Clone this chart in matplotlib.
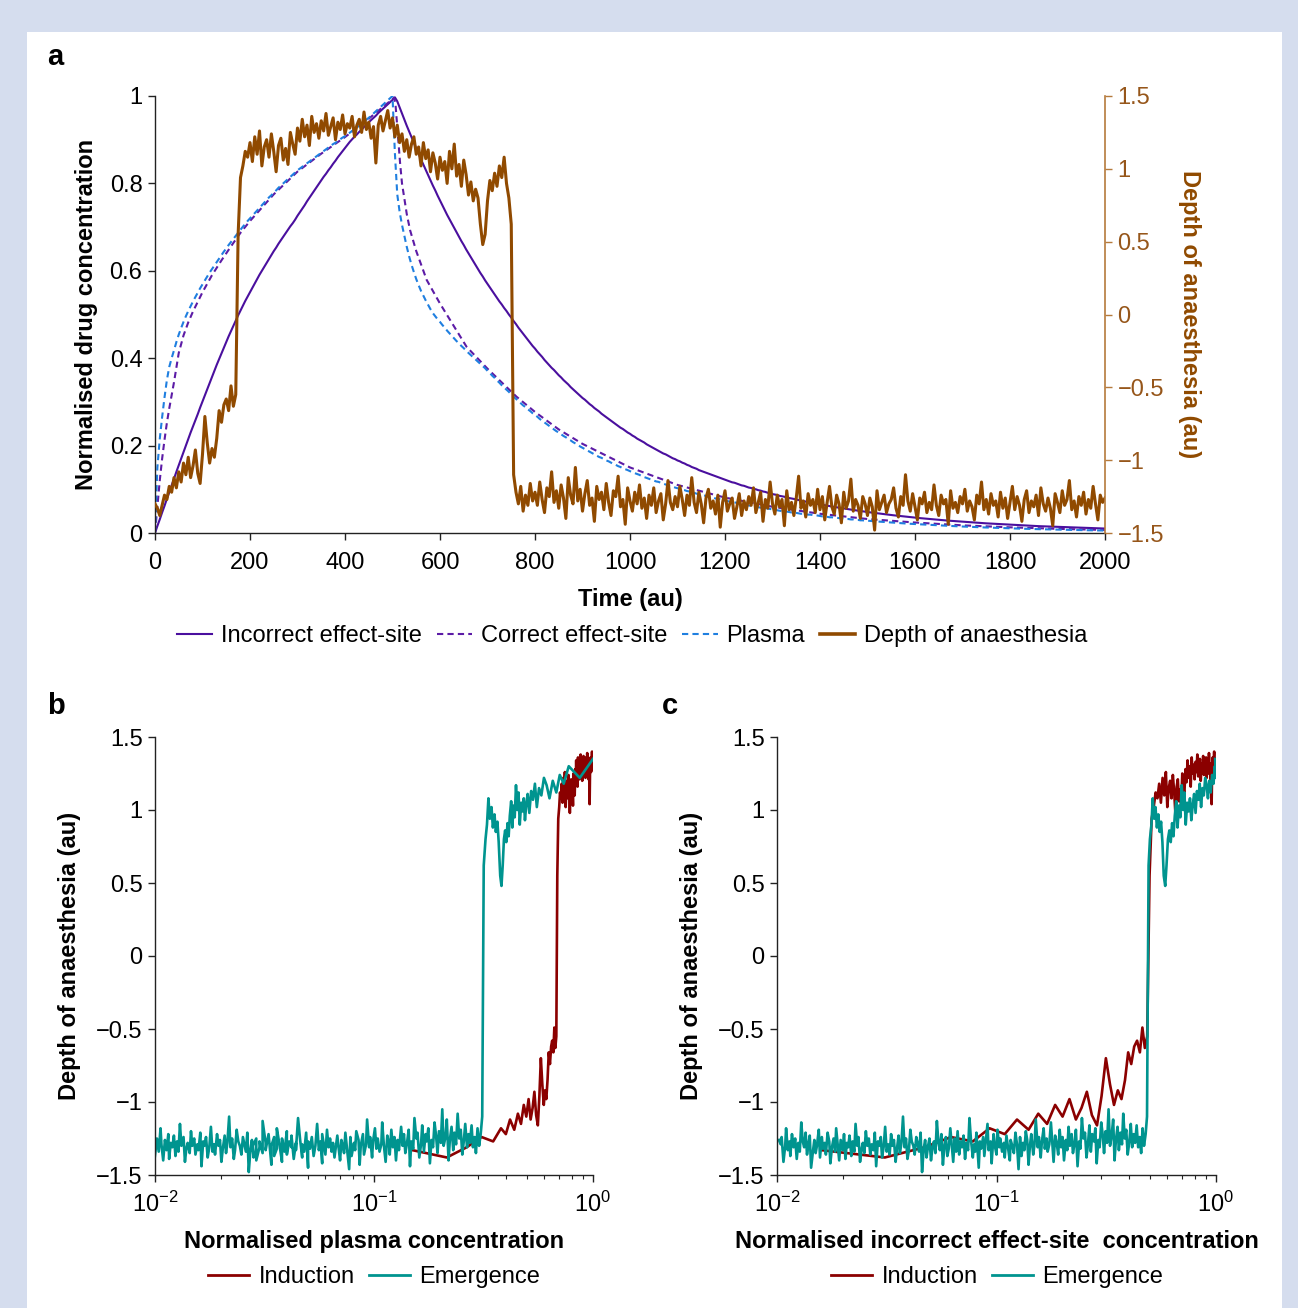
import numpy as np
import matplotlib
matplotlib.use("Agg")
import matplotlib.pyplot as plt
from matplotlib.patches import Rectangle
from matplotlib.lines import Line2D
from matplotlib.ticker import FuncFormatter, LogLocator, NullFormatter

plt.rcParams['font.family'] = ['Liberation Sans', 'DejaVu Sans']
plt.rcParams['mathtext.fontset'] = 'custom'
plt.rcParams['mathtext.rm'] = 'Liberation Sans'
plt.rcParams['mathtext.it'] = 'Liberation Sans:italic'
plt.rcParams['mathtext.bf'] = 'Liberation Sans:bold'

# ---------------- data ----------------
# sampling grid of the simulation (au), every 5 au from 0 to 2000
time_au = np.arange(0, 2001, 5)
INDUCTION_END = 100  # index of t = 500 (end of infusion)

plasma = [
    0.000, 0.150, 0.215, 0.265, 0.310, 0.350, 0.380, 0.400, 0.418, 0.437,
    0.454, 0.469, 0.483, 0.496, 0.508, 0.519, 0.530, 0.540, 0.550, 0.560,
    0.569, 0.578, 0.587, 0.596, 0.604, 0.612, 0.620, 0.628, 0.636, 0.644,
    0.651, 0.659, 0.666, 0.673, 0.680, 0.687, 0.694, 0.701, 0.707, 0.714,
    0.720, 0.726, 0.732, 0.738, 0.744, 0.750, 0.756, 0.762, 0.768, 0.773,
    0.779, 0.784, 0.790, 0.795, 0.800, 0.805, 0.810, 0.815, 0.820, 0.825,
    0.830, 0.834, 0.838, 0.842, 0.846, 0.850, 0.854, 0.858, 0.862, 0.866,
    0.870, 0.874, 0.878, 0.882, 0.886, 0.890, 0.893, 0.897, 0.901, 0.905,
    0.908, 0.912, 0.916, 0.920, 0.924, 0.928, 0.932, 0.937, 0.941, 0.946,
    0.950, 0.955, 0.960, 0.965, 0.970, 0.975, 0.980, 0.985, 0.990, 0.995,
    1.000,
    0.870, 0.775, 0.735, 0.705, 0.680, 0.655, 0.633, 0.614, 0.597,
    0.581, 0.567, 0.554, 0.543, 0.532, 0.522, 0.512, 0.503, 0.496, 0.489,
    0.483, 0.476, 0.470, 0.463, 0.457, 0.451, 0.445, 0.439, 0.434, 0.428,
    0.423, 0.417, 0.412, 0.407, 0.402, 0.397, 0.392, 0.387, 0.382, 0.377,
    0.371, 0.366, 0.360, 0.355, 0.349, 0.344, 0.338, 0.333, 0.328, 0.323,
    0.317, 0.312, 0.307, 0.302, 0.297, 0.292, 0.288, 0.283, 0.279, 0.274,
    0.270, 0.266, 0.261, 0.257, 0.253, 0.249, 0.245, 0.241, 0.237, 0.233,
    0.230, 0.226, 0.222, 0.219, 0.215, 0.212, 0.208, 0.205, 0.202, 0.198,
    0.195, 0.192, 0.189, 0.186, 0.183, 0.180, 0.177, 0.174, 0.172, 0.169,
    0.166, 0.164, 0.161, 0.158, 0.156, 0.153, 0.151, 0.148, 0.146, 0.144,
    0.1415, 0.139, 0.137, 0.135, 0.133, 0.130, 0.128, 0.126, 0.124, 0.122,
    0.120, 0.118, 0.117, 0.115, 0.113, 0.111, 0.109, 0.108, 0.106, 0.104,
    0.1025, 0.101, 0.099, 0.098, 0.096, 0.095, 0.093, 0.092, 0.090, 0.089,
    0.087, 0.086, 0.085, 0.083, 0.082, 0.081, 0.079, 0.078, 0.077, 0.075,
    0.074, 0.073, 0.072, 0.071, 0.070, 0.069, 0.068, 0.066, 0.065, 0.064,
    0.063, 0.062, 0.061, 0.060, 0.059, 0.058, 0.058, 0.057, 0.056, 0.055,
    0.054, 0.053, 0.052, 0.051, 0.050, 0.050, 0.049, 0.048, 0.047, 0.047,
    0.046, 0.045, 0.044, 0.044, 0.043, 0.042, 0.042, 0.041, 0.040, 0.040,
    0.039, 0.038, 0.038, 0.037, 0.036, 0.036, 0.035, 0.035, 0.034, 0.034,
    0.033, 0.032, 0.032, 0.031, 0.031, 0.030, 0.030, 0.029, 0.029, 0.028,
    0.0282, 0.0277, 0.0273, 0.0268, 0.0264, 0.0260, 0.0256, 0.0252, 0.0248, 0.0244,
    0.0240, 0.0236, 0.0232, 0.0229, 0.0225, 0.0221, 0.0218, 0.0214, 0.0211, 0.0208,
    0.0204, 0.0201, 0.0198, 0.0195, 0.0192, 0.0188, 0.0186, 0.0183, 0.0180, 0.0177,
    0.0174, 0.0171, 0.0168, 0.0166, 0.0163, 0.0161, 0.0158, 0.0156, 0.0153, 0.0151,
    0.0148, 0.0146, 0.0144, 0.0141, 0.0139, 0.0137, 0.0135, 0.0132, 0.0130, 0.0128,
    0.0126, 0.0124, 0.0122, 0.0120, 0.0118, 0.0116, 0.0115, 0.0113, 0.0111, 0.0109,
    0.0107, 0.0106, 0.0104, 0.0102, 0.0101, 0.0099, 0.0097, 0.0096, 0.0094, 0.0093,
    0.0091, 0.0090, 0.0088, 0.0087, 0.0086, 0.0084, 0.0083, 0.0082, 0.0080, 0.0079,
    0.0078, 0.0076, 0.0075, 0.0074, 0.0073, 0.0072, 0.0071, 0.0070, 0.0068, 0.0067,
    0.0066, 0.0065, 0.0064, 0.0063, 0.0062, 0.0061, 0.0060, 0.0059, 0.0058, 0.0057,
    0.0056,
]

incorrect_effect_site = [
    0.000, 0.016, 0.031, 0.047, 0.062, 0.078, 0.093, 0.109, 0.124, 0.140,
    0.155, 0.170, 0.185, 0.200, 0.215, 0.230, 0.244, 0.258, 0.272, 0.287,
    0.301, 0.315, 0.329, 0.343, 0.357, 0.371, 0.385, 0.398, 0.411, 0.424,
    0.437, 0.450, 0.462, 0.474, 0.486, 0.498, 0.509, 0.520, 0.531, 0.541,
    0.551, 0.561, 0.571, 0.581, 0.591, 0.600, 0.609, 0.618, 0.627, 0.636,
    0.645, 0.653, 0.662, 0.670, 0.678, 0.686, 0.694, 0.702, 0.709, 0.717,
    0.726, 0.734, 0.742, 0.750, 0.759, 0.767, 0.775, 0.783, 0.791, 0.799,
    0.807, 0.815, 0.822, 0.830, 0.837, 0.845, 0.852, 0.860, 0.867, 0.874,
    0.881, 0.888, 0.895, 0.901, 0.907, 0.912, 0.918, 0.923, 0.929, 0.934,
    0.940, 0.945, 0.950, 0.955, 0.961, 0.966, 0.971, 0.976, 0.981, 0.986,
    0.991,
    0.997, 0.988, 0.974, 0.960, 0.946, 0.932, 0.919, 0.906, 0.893,
    0.880, 0.868, 0.855, 0.843, 0.831, 0.819, 0.807, 0.795, 0.784, 0.772,
    0.761, 0.750, 0.739, 0.728, 0.718, 0.708, 0.698, 0.688, 0.678, 0.668,
    0.659, 0.649, 0.640, 0.631, 0.622, 0.613, 0.604, 0.595, 0.587, 0.578,
    0.570, 0.562, 0.554, 0.546, 0.538, 0.530, 0.523, 0.515, 0.508, 0.500,
    0.493, 0.485, 0.478, 0.470, 0.463, 0.456, 0.449, 0.442, 0.435, 0.428,
    0.422, 0.415, 0.409, 0.403, 0.396, 0.390, 0.384, 0.378, 0.373, 0.367,
    0.361, 0.356, 0.350, 0.345, 0.340, 0.334, 0.329, 0.324, 0.319, 0.314,
    0.309, 0.305, 0.300, 0.295, 0.291, 0.286, 0.282, 0.278, 0.273, 0.269,
    0.265, 0.261, 0.257, 0.253, 0.249, 0.245, 0.241, 0.238, 0.234, 0.230,
    0.227, 0.223, 0.220, 0.216, 0.213, 0.210, 0.207, 0.203, 0.200, 0.197,
    0.194, 0.191, 0.188, 0.185, 0.182, 0.180, 0.177, 0.174, 0.171, 0.169,
    0.166, 0.164, 0.161, 0.159, 0.156, 0.154, 0.151, 0.149, 0.147, 0.144,
    0.142, 0.140, 0.138, 0.136, 0.134, 0.132, 0.130, 0.128, 0.126, 0.124,
    0.122, 0.120, 0.118, 0.116, 0.115, 0.113, 0.111, 0.109, 0.108, 0.106,
    0.104, 0.103, 0.101, 0.100, 0.098, 0.097, 0.095, 0.094, 0.092, 0.091,
    0.089, 0.088, 0.087, 0.085, 0.084, 0.083, 0.081, 0.080, 0.079, 0.078,
    0.0765, 0.0753, 0.0742, 0.0730, 0.0719, 0.0708, 0.0697, 0.0686, 0.0676, 0.0665,
    0.0655, 0.0645, 0.0635, 0.0625, 0.0616, 0.0606, 0.0597, 0.0588, 0.0579, 0.0570,
    0.0561, 0.0552, 0.0544, 0.0535, 0.0527, 0.0519, 0.0511, 0.0503, 0.0495, 0.0488,
    0.0480, 0.0473, 0.0466, 0.0458, 0.0451, 0.0444, 0.0438, 0.0431, 0.0424, 0.0418,
    0.0411, 0.0405, 0.0399, 0.0393, 0.0387, 0.0381, 0.0375, 0.0369, 0.0363, 0.0358,
    0.0352, 0.0347, 0.0341, 0.0336, 0.0331, 0.0326, 0.0321, 0.0316, 0.0311, 0.0306,
    0.0301, 0.0297, 0.0292, 0.0288, 0.0283, 0.0279, 0.0275, 0.0270, 0.0266, 0.0262,
    0.0258, 0.0254, 0.0250, 0.0246, 0.0243, 0.0239, 0.0235, 0.0232, 0.0228, 0.0225,
    0.0221, 0.0218, 0.0214, 0.0211, 0.0208, 0.0205, 0.0202, 0.0199, 0.0195, 0.0192,
    0.0189, 0.0186, 0.0184, 0.0181, 0.0178, 0.0175, 0.0173, 0.0170, 0.0167, 0.0165,
    0.0162, 0.0160, 0.0157, 0.0155, 0.0152, 0.0150, 0.0148, 0.0146, 0.0143, 0.0141,
    0.0139, 0.0137, 0.0135, 0.0133, 0.0131, 0.0129, 0.0127, 0.0125, 0.0123, 0.0121,
    0.0119, 0.0117, 0.0115, 0.0114, 0.0112, 0.0110, 0.0109, 0.0107, 0.0105, 0.0104,
    0.0102,
]

depth = [
    -1.30, -1.33, -1.38, -1.31, -1.24, -1.27, -1.18, -1.22, -1.12, -1.19,
    -1.08, -1.15, -1.02, -1.10, -0.98, -1.12, -1.04, -0.93, -1.09, -1.16,
    -0.96, -0.70, -0.88, -1.02, -0.92, -0.98, -0.85, -0.66, -0.74, -0.62,
    -0.58, -0.66, -0.49, -0.63, -0.55, 0.55, 0.94, 1.02, 1.12, 1.08,
    1.18, 1.05, 1.22, 1.10, 1.26, 1.02, 1.15, 1.20, 1.08, 1.24,
    1.12, 0.98, 1.16, 1.21, 1.06, 1.14, 1.03, 1.25, 1.17, 1.10,
    1.28, 1.19, 1.34, 1.22, 1.30, 1.16, 1.36, 1.25, 1.31, 1.21,
    1.33, 1.26, 1.38, 1.23, 1.29, 1.35, 1.20, 1.32, 1.27, 1.37,
    1.24, 1.31, 1.28, 1.36, 1.22, 1.30, 1.34, 1.25, 1.39, 1.27,
    1.32, 1.21, 1.29, 1.04, 1.30, 1.36, 1.26, 1.33, 1.40, 1.28,
    1.35, 1.22, 1.30, 1.18, 1.24, 1.12, 1.20, 1.08, 1.17, 1.22,
    1.10, 1.15, 1.02, 1.18, 1.07, 1.13, 0.98, 1.11, 1.04, 0.93,
    1.08, 0.99, 1.05, 0.90, 1.12, 1.00, 1.17, 0.95, 1.03, 0.88,
    1.06, 0.96, 0.82, 0.91, 0.78, 0.86, 0.80, 0.62, 0.48, 0.55,
    0.78, 0.92, 0.85, 0.97, 0.88, 1.02, 0.94, 1.08, 0.90, 0.80,
    0.62, -1.10, -1.22, -1.30, -1.18, -1.35, -1.24, -1.31, -1.16, -1.28,
    -1.22, -1.31, -1.15, -1.27, -1.36, -1.19, -1.25, -1.08, -1.29, -1.21,
    -1.33, -1.17, -1.26, -1.40, -1.12, -1.24, -1.30, -1.05, -1.28, -1.20,
    -1.35, -1.23, -1.14, -1.31, -1.26, -1.42, -1.18, -1.27, -1.22, -1.34,
    -1.16, -1.29, -1.38, -1.21, -1.25, -1.11, -1.32, -1.27, -1.44, -1.19,
    -1.28, -1.35, -1.22, -1.30, -1.17, -1.33, -1.26, -1.40, -1.24, -1.31,
    -1.19, -1.36, -1.28, -1.23, -1.41, -1.30, -1.14, -1.29, -1.34, -1.25,
    -1.32, -1.18, -1.27, -1.38, -1.24, -1.31, -1.12, -1.29, -1.36, -1.22,
    -1.30, -1.43, -1.26, -1.20, -1.33, -1.28, -1.37, -1.24, -1.46, -1.29,
    -1.21, -1.35, -1.30, -1.26, -1.40, -1.32, -1.23, -1.38, -1.28, -1.34,
    -1.25, -1.31, -1.19, -1.36, -1.29, -1.22, -1.42, -1.27, -1.33, -1.15,
    -1.30, -1.37, -1.24, -1.32, -1.27, -1.45, -1.21, -1.34, -1.29, -1.38,
    -1.26, -1.11, -1.33, -1.28, -1.39, -1.23, -1.31, -1.27, -1.36, -1.20,
    -1.34, -1.25, -1.41, -1.29, -1.18, -1.32, -1.37, -1.24, -1.30, -1.43,
    -1.22, -1.33, -1.28, -1.13, -1.35, -1.27, -1.31, -1.40, -1.25, -1.30,
    -1.38, -1.26, -1.32, -1.48, -1.21, -1.34, -1.29, -1.24, -1.36, -1.30,
    -1.27, -1.19, -1.33, -1.39, -1.25, -1.31, -1.10, -1.28, -1.35, -1.23,
    -1.32, -1.41, -1.26, -1.30, -1.22, -1.36, -1.29, -1.34, -1.17, -1.31,
    -1.38, -1.24, -1.30, -1.27, -1.44, -1.21, -1.33, -1.29, -1.36, -1.25,
    -1.30, -1.20, -1.35, -1.28, -1.32, -1.41, -1.24, -1.30, -1.15, -1.34,
    -1.27, -1.37, -1.23, -1.31, -1.28, -1.39, -1.22, -1.33, -1.26, -1.40,
    -1.29, -1.18, -1.34, -1.25, -1.31, -1.42, -1.27, -1.21, -1.36, -1.28,
    -1.32, -1.24, -1.38, -1.19, -1.30, -1.35, -1.26, -1.33, -1.45, -1.23,
    -1.29, -1.36, -1.21, -1.31, -1.27, -1.14, -1.34, -1.28, -1.39, -1.25,
    -1.31, -1.22, -1.37, -1.27, -1.33, -1.18, -1.30, -1.41, -1.24, -1.29,
    -1.26,
]

correct_time = [0, 5, 10, 15, 20, 25, 30, 40, 50, 60, 70, 80, 100, 120, 140,
                160, 180, 200, 250, 300, 350, 400, 450, 500, 503, 506, 510,
                516, 520, 530, 537, 550, 572, 600, 656, 700, 761, 800, 850,
                900, 1000, 1100, 1200, 1300, 1400, 1500, 1600, 1700, 1800,
                1900, 2000]
correct_effect_site = [0.0, 0.06, 0.12, 0.17, 0.213, 0.252, 0.285, 0.345,
                       0.412, 0.452, 0.482, 0.507, 0.551, 0.590, 0.624,
                       0.656, 0.687, 0.714, 0.775, 0.827, 0.868, 0.906,
                       0.948, 0.993, 0.996, 0.985, 0.93, 0.846, 0.80, 0.73,
                       0.693, 0.645, 0.579, 0.525, 0.426, 0.376, 0.312,
                       0.277, 0.237, 0.204, 0.150, 0.110, 0.081, 0.060,
                       0.044, 0.032, 0.024, 0.0175, 0.013, 0.0095, 0.007]

x_ticks_time = [0, 200, 400, 600, 800, 1000, 1200, 1400, 1600, 1800, 2000]
y_ticks_conc = [0, 0.2, 0.4, 0.6, 0.8, 1.0]
y_ticks_depth = [-1.5, -1, -0.5, 0, 0.5, 1, 1.5]

plasma = np.array(plasma)
incorrect_effect_site = np.array(incorrect_effect_site)
depth = np.array(depth)

# ---------------- style ----------------
W, H = 1298, 1308
C_INCORRECT = '#4a0f9e'
C_CORRECT = '#5c1ba6'
C_PLASMA = '#1f7fe0'
C_DEPTH = '#904a00'
C_DEPTH_AXIS = '#b57a3c'
C_DEPTH_TXT = '#96561a'
C_IND = '#8b0000'
C_EMER = '#00948f'
C_AX = '#222222'
FS = 17

def num_fmt(v, pos=None):
    return f'{round(v, 2):g}'.replace('-', '\u2212')

fig = plt.figure(figsize=(W / 100, H / 100), dpi=100)
fig.patch.set_facecolor('#d5ddee')
fig.patches.append(Rectangle((27 / W, 0), (1282 - 27) / W, (H - 32) / H,
                             transform=fig.transFigure, facecolor='white',
                             edgecolor='none', zorder=-1))

def style_axis(ax):
    ax.set_facecolor('none')
    for s in ['top', 'right']:
        ax.spines[s].set_visible(False)
    for s in ['left', 'bottom']:
        ax.spines[s].set_color(C_AX)
        ax.spines[s].set_linewidth(1.0)
    ax.tick_params(axis='both', which='major', direction='out', length=5,
                   width=1.0, color=C_AX, labelsize=FS, pad=4, labelcolor='black')
    ax.tick_params(axis='both', which='minor', direction='out', length=3,
                   width=0.8, color=C_AX)

# ---------------- panel a ----------------
ax_a = fig.add_axes([155 / W, 1 - 533 / H, 950 / W, 437 / H])
style_axis(ax_a)
l_inc, = ax_a.plot(time_au, incorrect_effect_site, color=C_INCORRECT, lw=1.5)
l_cor, = ax_a.plot(correct_time, correct_effect_site, color=C_CORRECT, lw=1.5,
                   dashes=(3, 2))
l_pla, = ax_a.plot(time_au, plasma, color=C_PLASMA, lw=1.5, dashes=(3, 2))
ax_a.set_xlim(0, 2000)
ax_a.set_ylim(0, 1)
ax_a.set_xticks(x_ticks_time)
ax_a.set_yticks(y_ticks_conc)
ax_a.yaxis.set_major_formatter(FuncFormatter(num_fmt))
ax_a.tick_params(axis='x', which='major', pad=9)
ax_a.set_xlabel('Time (au)', fontsize=FS, fontweight='bold')
ax_a.xaxis.set_label_coords(0.5, -0.126)
ax_a.set_ylabel('Normalised drug concentration', fontsize=FS, fontweight='bold')
ax_a.yaxis.set_label_coords(-0.060, 0.5)

ax_a2 = ax_a.twinx()
ax_a2.set_facecolor('none')
l_dep, = ax_a2.plot(time_au, depth, color=C_DEPTH, lw=2.2)
ax_a2.set_ylim(-1.5, 1.5)
ax_a2.set_yticks(y_ticks_depth)
ax_a2.yaxis.set_major_formatter(FuncFormatter(num_fmt))
for s in ['top', 'left', 'bottom']:
    ax_a2.spines[s].set_visible(False)
ax_a2.spines['right'].set_color(C_DEPTH_AXIS)
ax_a2.spines['right'].set_linewidth(1.2)
ax_a2.tick_params(axis='y', direction='out', length=5, width=1.0,
                  color=C_DEPTH_AXIS, labelcolor=C_DEPTH_TXT, labelsize=FS, pad=4)
ax_a2.set_ylabel('Depth of anaesthesia (au)', fontsize=FS, fontweight='bold',
                 color=C_DEPTH, rotation=270, va='center')
ax_a2.yaxis.set_label_coords(1.089, 0.5)

fig.legend([l_inc, l_cor, l_pla, Line2D([], [], color=C_DEPTH, lw=2.6)],
           ['Incorrect effect-site', 'Correct effect-site', 'Plasma',
            'Depth of anaesthesia'],
           loc='center', bbox_to_anchor=(632 / W, 1 - 636 / H), ncol=4,
           frameon=False, fontsize=FS, handlelength=1.5, handletextpad=0.35,
           columnspacing=0.65)

# ---------------- panels b and c ----------------
def hysteresis_panel(rect, xconc, xlabel, legend_x):
    ax = fig.add_axes(rect)
    style_axis(ax)
    ax.set_xscale('log', nonpositive='mask')
    ax.plot(xconc[:INDUCTION_END + 1], depth[:INDUCTION_END + 1],
            color=C_IND, lw=1.9)
    ax.plot(xconc[INDUCTION_END:], depth[INDUCTION_END:], color=C_EMER, lw=1.9)
    ax.set_xlim(0.01, 1)
    ax.set_ylim(-1.5, 1.5)
    ax.set_yticks(y_ticks_depth)
    ax.yaxis.set_major_formatter(FuncFormatter(num_fmt))
    ax.xaxis.set_major_locator(LogLocator(base=10, numticks=10))
    ax.xaxis.set_minor_locator(LogLocator(base=10, subs=np.arange(2, 10), numticks=20))
    ax.xaxis.set_minor_formatter(NullFormatter())
    ax.tick_params(axis='x', which='major', pad=7)
    ax.set_xlabel(xlabel, fontsize=FS, fontweight='bold')
    ax.xaxis.set_label_coords(0.5, -0.126)
    ax.set_ylabel('Depth of anaesthesia (au)', fontsize=FS, fontweight='bold')
    ax.yaxis.set_label_coords(-0.169, 0.5)
    fig.legend([Line2D([], [], color=C_IND, lw=2.0),
                Line2D([], [], color=C_EMER, lw=2.0)],
               ['Induction', 'Emergence'], loc='center',
               bbox_to_anchor=(legend_x / W, 1 - 1277 / H), ncol=2,
               frameon=False, fontsize=FS, handlelength=1.75,
               handletextpad=0.4, columnspacing=0.6)
    return ax

ax_b = hysteresis_panel([155 / W, 1 - 1175 / H, 438 / W, 438 / H], plasma,
                        'Normalised plasma concentration', 374)
ax_c = hysteresis_panel([777 / W, 1 - 1175 / H, 439 / W, 438 / H],
                        incorrect_effect_site,
                        'Normalised incorrect effect-site  concentration', 997)

# panel letters
for letter, (px, py) in {'a': (47, 57), 'b': (47, 706), 'c': (662, 706)}.items():
    fig.text(px / W, 1 - py / H, letter, fontsize=21, fontweight='bold',
             ha='left', va='center')

fig.savefig('out.png', dpi=100, facecolor=fig.get_facecolor())
